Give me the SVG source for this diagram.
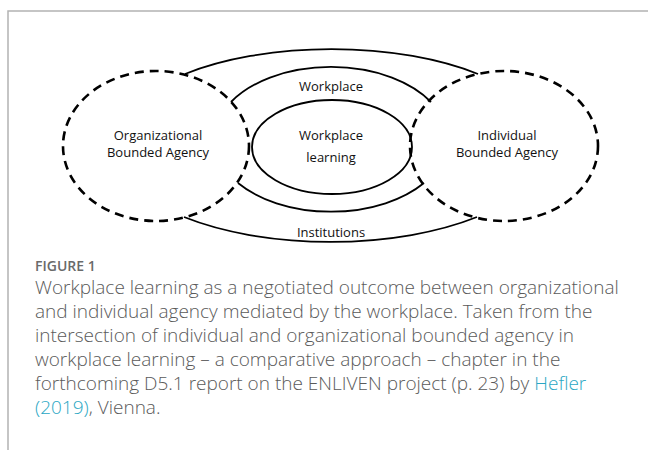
<svg xmlns="http://www.w3.org/2000/svg" width="648" height="450" viewBox="0 0 648 450">
<style>
.frame{fill:none;stroke:#b3b3b3;stroke-width:1.5}
.solid{fill:none;stroke:#000;stroke-width:1.8}
.dash{fill:none;stroke:#000;stroke-width:2.6;stroke-dasharray:9 6}
.lbl{font-family:"Open Sans","Liberation Sans",sans-serif;font-size:13px;fill:#111;text-anchor:middle}
.cap{font-family:"Open Sans","Liberation Sans",sans-serif;font-size:19px;fill:#5a5a5a;font-weight:300}
.fig{font-family:"Open Sans","Liberation Sans",sans-serif;font-size:14px;fill:#6a6a6a;font-weight:600}
.link{fill:#2aa7c4}
</style>
<rect width="648" height="450" fill="#fff"/>
<path class="frame" d="M8,450 V11 H648"/>
<g id="connectors">
<g id="institutions">
<path class="solid" d="M185,74 A219,97 0 0 1 478,74"/>
<path class="solid" d="M184,217 A219,97 0 0 0 477,217"/>
<text class="lbl" x="331" y="237">Institutions</text>
</g>
<g id="workplace">
<path class="solid" d="M231,102 A117,73 0 0 1 431,102"/>
<path class="solid" d="M238,183 A117,73 0 0 0 424,183"/>
<text class="lbl" x="331" y="91">Workplace</text>
</g>
</g>
<g id="workplace-learning">
<ellipse class="solid" cx="332" cy="147" rx="80" ry="47"/>
<text class="lbl" x="331" y="140">Workplace</text>
<text class="lbl" x="331" y="162">learning</text>
</g>
<g id="organizational-agency">
<ellipse class="dash" cx="156" cy="146" rx="93" ry="75"/>
<text class="lbl" x="158" y="140">Organizational</text>
<text class="lbl" x="158" y="157">Bounded Agency</text>
</g>
<g id="individual-agency">
<ellipse class="dash" cx="504" cy="146" rx="94" ry="75"/>
<text class="lbl" x="507" y="140">Individual</text>
<text class="lbl" x="507" y="157">Bounded Agency</text>
</g>
<g id="caption">
<text class="fig" x="35" y="271">FIGURE 1</text>
<text class="cap" x="35" y="294">Workplace learning as a negotiated outcome between organizational</text>
<text class="cap" x="35" y="318">and individual agency mediated by the workplace. Taken from the</text>
<text class="cap" x="35" y="342">intersection of individual and organizational bounded agency in</text>
<text class="cap" x="35" y="366">workplace learning – a comparative approach – chapter in the</text>
<text class="cap" x="35" y="390">forthcoming D5.1 report on the ENLIVEN project (p. 23) by <tspan class="link">Hefler</tspan></text>
<text class="cap" x="35" y="414"><tspan class="link">(2019)</tspan>, Vienna.</text>
</g>
</svg>
